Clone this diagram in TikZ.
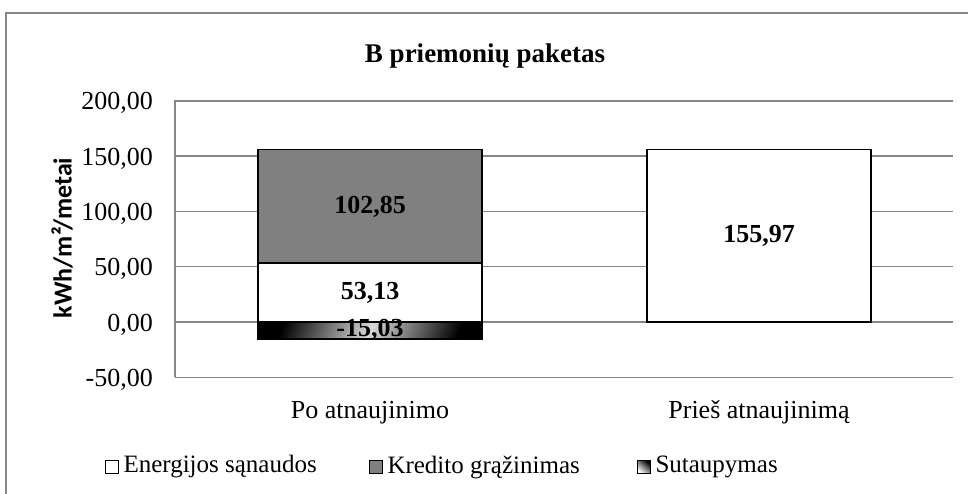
\documentclass[tikz,border=0pt]{standalone}
\usepackage{fontspec}
\setmainfont{Liberation Serif}
\newfontfamily\axisfont{Carlito}
\usetikzlibrary{positioning}
\definecolor{framegray}{HTML}{868686}
\definecolor{kreditgray}{HTML}{808080}
\tikzstyle{gridline} = [draw=framegray, line width=1.4pt]
\tikzstyle{barbox} = [rectangle, draw=black, line width=1.8pt, minimum width=224pt, inner sep=0pt, font=\fontsize{26}{28}\selectfont\bfseries, text centered]
\tikzstyle{vallabel} = [inner sep=0pt, font=\fontsize{26}{28}\selectfont\bfseries]
\tikzstyle{ticklabel} = [anchor=base east, inner sep=0pt, font=\fontsize{26}{28}\selectfont]
\tikzstyle{catlabel} = [anchor=base, inner sep=0pt, font=\fontsize{26}{28}\selectfont]
\tikzstyle{legendmark} = [rectangle, draw=black, line width=1.6pt, minimum size=13pt, inner sep=0pt]
\tikzstyle{legendtext} = [inner sep=0pt, font=\fontsize{25}{27}\selectfont]

\begin{document}
\begin{tikzpicture}[x=1pt, y=-1pt]
            \useasboundingbox (0,0) rectangle (968,493);
            \draw [framegray, line width=1.5pt] (6,13) rectangle (980,510);
            \node (title) [anchor=base, inner sep=0pt, font=\fontsize{27}{29}\selectfont\bfseries] at (485,62) {B priemonių paketas};
    
            % grid and y axis
            \foreach \v/\lab in {-50/{-50,00}, 0/{0,00}, 50/{50,00}, 100/{100,00}, 150/{150,00}, 200/{200,00}}
            {
                \draw [gridline] (175,{322-1.106*\v}) -- (953,{322-1.106*\v});
                \node [ticklabel] at (153,{331-1.106*\v}) {\lab};
            }
            \draw [gridline] (175,100) -- (175,377.3);
            \node (ytitle) [rotate=90, inner sep=0pt, font=\fontsize{26}{28}\axisfont\bfseries] at (62,238) {kWh/m²/metai};
    
            % bars
            \node (kredit) [barbox, fill=kreditgray, minimum height=113.7pt] at (370,206.4) {102,85};
            \node (energy) [barbox, fill=white, minimum height=58.8pt] at (370,292.6) {53,13};
            \node (savings) [barbox, left color=black, right color=black, middle color=white!85!black, shading angle=70, minimum height=16.6pt] at (370,330.3) {};
            \node (savingslabel) [vallabel] at (savings.center) {-15,03};
            \node (before) [barbox, fill=white, minimum height=172.5pt] at (759,235.75) {155,97};
    
            \node (catpo) [catlabel] at (370,418) {Po atnaujinimo};
            \node (catpries) [catlabel] at (759,418) {Prieš atnaujinimą};
    
            % legend
            \node (markenergy) [legendmark, fill=white] at (112,467) {};
            \node (txtenergy) [legendtext, right=4pt of markenergy] {Energijos sąnaudos};
            \node (markkredit) [legendmark, fill=kreditgray] at (376,467) {};
            \node (txtkredit) [legendtext, right=4pt of markkredit] {Kredito grąžinimas};
            \node (marksavings) [legendmark, top color=black, bottom color=white, shading angle=-40] at (644,467) {};
            \node (txtsavings) [legendtext, right=4pt of marksavings] {Sutaupymas};
    
            \end{tikzpicture}
\end{document}
